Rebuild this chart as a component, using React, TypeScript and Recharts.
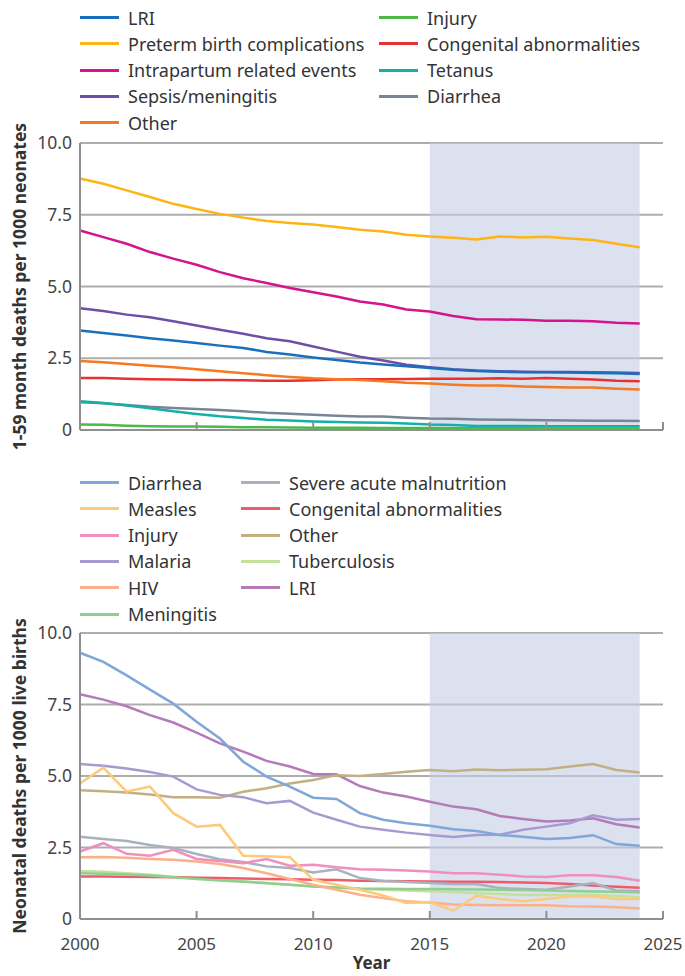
import { LineChart, Line, XAxis, YAxis, CartesianGrid, ReferenceArea } from "recharts";

const years = [
  2000, 2001, 2002, 2003, 2004, 2005, 2006, 2007, 2008, 2009, 2010, 2011, 2012,
  2013, 2014, 2015, 2016, 2017, 2018, 2019, 2020, 2021, 2022, 2023, 2024,
];
const xTicks = [2000, 2005, 2010, 2015, 2020, 2025];
const yTicks = [0, 2.5, 5, 7.5, 10];

// top panel: 1-59 month
const topLri = [3.47, 3.38, 3.29, 3.2, 3.12, 3.03, 2.94, 2.86, 2.72, 2.63, 2.53, 2.44, 2.35, 2.28, 2.22, 2.16, 2.1, 2.06, 2.03, 2.01, 2.01, 2.0, 1.99, 1.98, 1.95];
const topPreterm = [8.76, 8.58, 8.35, 8.12, 7.88, 7.7, 7.53, 7.4, 7.28, 7.21, 7.16, 7.07, 6.98, 6.92, 6.8, 6.74, 6.7, 6.64, 6.74, 6.71, 6.73, 6.67, 6.62, 6.49, 6.37];
const topIntrapartum = [6.95, 6.72, 6.49, 6.2, 5.97, 5.76, 5.5, 5.29, 5.12, 4.95, 4.8, 4.65, 4.48, 4.37, 4.2, 4.13, 3.97, 3.86, 3.85, 3.84, 3.81, 3.81, 3.79, 3.74, 3.71];
const topSepsis = [4.24, 4.15, 4.02, 3.93, 3.79, 3.64, 3.49, 3.35, 3.2, 3.09, 2.91, 2.73, 2.55, 2.42, 2.27, 2.19, 2.12, 2.07, 2.05, 2.03, 2.02, 2.02, 2.01, 2.0, 1.99];
const topOther = [2.4, 2.36, 2.3, 2.24, 2.19, 2.12, 2.05, 1.98, 1.91, 1.85, 1.8, 1.77, 1.74, 1.7, 1.65, 1.62, 1.58, 1.55, 1.55, 1.52, 1.5, 1.48, 1.48, 1.44, 1.41];
const topInjury = [0.19, 0.18, 0.15, 0.13, 0.12, 0.12, 0.11, 0.1, 0.1, 0.09, 0.08, 0.08, 0.08, 0.07, 0.07, 0.07, 0.06, 0.06, 0.06, 0.06, 0.05, 0.05, 0.05, 0.05, 0.05];
const topCongenital = [1.81, 1.81, 1.79, 1.77, 1.76, 1.74, 1.74, 1.73, 1.72, 1.72, 1.73, 1.76, 1.77, 1.77, 1.78, 1.79, 1.79, 1.79, 1.8, 1.79, 1.81, 1.79, 1.76, 1.72, 1.7];
const topTetanus = [1.0, 0.94, 0.85, 0.76, 0.65, 0.56, 0.48, 0.42, 0.36, 0.33, 0.3, 0.28, 0.26, 0.25, 0.23, 0.19, 0.17, 0.14, 0.14, 0.14, 0.13, 0.13, 0.13, 0.13, 0.13];
const topDiarrhea = [0.97, 0.93, 0.87, 0.81, 0.77, 0.73, 0.7, 0.65, 0.6, 0.57, 0.53, 0.5, 0.47, 0.47, 0.43, 0.4, 0.39, 0.37, 0.36, 0.35, 0.34, 0.33, 0.32, 0.32, 0.31];

// bottom panel: neonatal
const botDiarrhea = [9.31, 8.99, 8.52, 8.02, 7.53, 6.9, 6.31, 5.5, 4.98, 4.63, 4.24, 4.2, 3.7, 3.47, 3.35, 3.26, 3.14, 3.08, 2.94, 2.88, 2.8, 2.83, 2.93, 2.62, 2.56];
const botMeasles = [4.74, 5.29, 4.45, 4.63, 3.7, 3.23, 3.29, 2.21, 2.19, 2.16, 1.37, 1.2, 1.02, 0.82, 0.56, 0.59, 0.29, 0.81, 0.7, 0.62, 0.7, 0.79, 0.79, 0.7, 0.7];
const botInjury = [2.36, 2.65, 2.28, 2.21, 2.42, 2.1, 2.03, 1.95, 2.1, 1.86, 1.9, 1.81, 1.74, 1.72, 1.7, 1.66, 1.6, 1.6, 1.55, 1.49, 1.47, 1.53, 1.53, 1.47, 1.34];
const botMalaria = [5.42, 5.36, 5.26, 5.14, 4.98, 4.53, 4.34, 4.26, 4.05, 4.13, 3.72, 3.47, 3.23, 3.12, 3.02, 2.94, 2.87, 2.94, 2.95, 3.12, 3.23, 3.35, 3.63, 3.47, 3.5];
const botHiv = [2.16, 2.17, 2.14, 2.1, 2.07, 2.01, 1.92, 1.78, 1.6, 1.4, 1.2, 1.02, 0.85, 0.73, 0.62, 0.58, 0.51, 0.49, 0.48, 0.48, 0.48, 0.45, 0.44, 0.41, 0.37];
const botMeningitis = [1.6, 1.58, 1.56, 1.52, 1.46, 1.4, 1.35, 1.3, 1.25, 1.2, 1.14, 1.1, 1.07, 1.06, 1.05, 1.05, 1.04, 1.03, 1.02, 1.01, 1.0, 0.98, 0.96, 0.95, 0.93];
const botSam = [2.88, 2.8, 2.73, 2.59, 2.48, 2.27, 2.09, 1.99, 1.84, 1.78, 1.63, 1.74, 1.43, 1.33, 1.29, 1.26, 1.22, 1.22, 1.08, 1.05, 1.02, 1.14, 1.26, 1.0, 0.97];
const botCongenital = [1.49, 1.49, 1.48, 1.47, 1.46, 1.44, 1.43, 1.42, 1.4, 1.39, 1.37, 1.36, 1.34, 1.33, 1.32, 1.31, 1.3, 1.3, 1.29, 1.28, 1.26, 1.22, 1.17, 1.13, 1.09];
const botOther = [4.5, 4.47, 4.42, 4.35, 4.26, 4.26, 4.24, 4.45, 4.57, 4.74, 4.86, 5.03, 5.0, 5.07, 5.15, 5.21, 5.17, 5.23, 5.2, 5.22, 5.24, 5.33, 5.42, 5.21, 5.12];
const botTb = [1.68, 1.65, 1.6, 1.55, 1.48, 1.43, 1.37, 1.32, 1.26, 1.2, 1.14, 1.1, 1.05, 1.02, 1.0, 0.97, 0.94, 0.91, 0.87, 0.84, 0.85, 0.84, 0.84, 0.8, 0.77];
const botLri = [7.86, 7.67, 7.44, 7.13, 6.87, 6.52, 6.14, 5.85, 5.53, 5.33, 5.07, 5.06, 4.65, 4.42, 4.28, 4.1, 3.93, 3.84, 3.6, 3.5, 3.41, 3.44, 3.52, 3.31, 3.2];

type Series = { key: string; name: string; color: string; values: number[] };

// legend order, column by column
const topSeries: Series[] = [
  { key: "lri", name: "LRI", color: "#1a6fbd", values: topLri },
  { key: "preterm", name: "Preterm birth complications", color: "#fdb515", values: topPreterm },
  { key: "intrapartum", name: "Intrapartum related events", color: "#d4148c", values: topIntrapartum },
  { key: "sepsis", name: "Sepsis/meningitis", color: "#6b4fa8", values: topSepsis },
  { key: "other", name: "Other", color: "#f47920", values: topOther },
  { key: "injury", name: "Injury", color: "#4cb847", values: topInjury },
  { key: "congenital", name: "Congenital abnormalities", color: "#e8312f", values: topCongenital },
  { key: "tetanus", name: "Tetanus", color: "#12b0a8", values: topTetanus },
  { key: "diarrhea", name: "Diarrhea", color: "#7a8594", values: topDiarrhea },
];

const bottomSeries: Series[] = [
  { key: "diarrhea", name: "Diarrhea", color: "#7fa7d9", values: botDiarrhea },
  { key: "measles", name: "Measles", color: "#fdc97a", values: botMeasles },
  { key: "injury", name: "Injury", color: "#ee8fbe", values: botInjury },
  { key: "malaria", name: "Malaria", color: "#a89ad0", values: botMalaria },
  { key: "hiv", name: "HIV", color: "#fbb08a", values: botHiv },
  { key: "meningitis", name: "Meningitis", color: "#90cf92", values: botMeningitis },
  { key: "sam", name: "Severe acute malnutrition", color: "#a9b2bc", values: botSam },
  { key: "congenital", name: "Congenital abnormalities", color: "#ef5b6b", values: botCongenital },
  { key: "other", name: "Other", color: "#c2b083", values: botOther },
  { key: "tb", name: "Tuberculosis", color: "#c3e19a", values: botTb },
  { key: "lri", name: "LRI", color: "#b57ab8", values: botLri },
];

const toRows = (series: Series[]) =>
  years.map((year, i) => {
    const row: Record<string, number> = { year };
    series.forEach((s) => (row[s.key] = s.values[i]));
    return row;
  });

const FONT = "'Noto Sans', sans-serif";
const AXIS = "#8f8f8f";

function YearTick(props: any) {
  const { x, y, payload, showLabel } = props;
  return (
    <g>
      <line x1={x} x2={x} y1={y} y2={y - 8} stroke={AXIS} strokeWidth={2} />
      {showLabel && (
        <text x={x} y={y + 31} textAnchor="middle" fontSize={17} fill="#444" fontFamily={FONT}>
          {payload.value}
        </text>
      )}
    </g>
  );
}

function Legend({ series, top, rows, col1, col2 }: { series: Series[]; top: number; rows: number; col1: number; col2: number }) {
  return (
    <>
      {series.map((s, i) => {
        const col = Math.floor(i / rows);
        const row = i % rows;
        return (
          <div
            key={s.name + i}
            style={{
              position: "absolute",
              left: col === 0 ? col1 : col2,
              top: top + row * 26.3 - 12,
              height: 24,
              display: "flex",
              alignItems: "center",
              fontFamily: FONT,
              fontSize: 18,
              color: "#333",
              whiteSpace: "nowrap",
            }}
          >
            <span style={{ display: "inline-block", width: 39, height: 3, background: s.color, marginRight: 9 }} />
            {s.name}
          </div>
        );
      })}
    </>
  );
}

function Panel({ series, height, xAxisHeight, showLabels, yTitle }: { series: Series[]; height: number; xAxisHeight: number; showLabels: boolean; yTitle: string }) {
  const drawOrder = [...series].reverse();
  return (
    <LineChart width={685} height={height} data={toRows(series)} margin={{ top: 143, right: 22, bottom: 0, left: 0 }}>
      <ReferenceArea x1={2015} x2={2024} y1={0} y2={10} fill="#c5cde6" fillOpacity={0.6} stroke="none" />
      <CartesianGrid vertical={false} stroke="#adadad" strokeWidth={2} />
      <XAxis
        dataKey="year"
        type="number"
        domain={[2000, 2025]}
        ticks={xTicks}
        height={xAxisHeight}
        tickSize={0}
        tickMargin={0}
        tickLine={false}
        axisLine={{ stroke: AXIS, strokeWidth: 2 }}
        tick={<YearTick showLabel={showLabels} />}
        interval={0}
        label={showLabels ? { value: "Year", position: "insideBottom", offset: 7, style: { fontFamily: FONT, fontSize: 17, fontWeight: 700, fill: "#333" } } : undefined}
      />
      <YAxis
        type="number"
        domain={[0, 10]}
        ticks={yTicks}
        interval={0}
        width={80}
        tickSize={0}
        tickMargin={8}
        tickLine={false}
        axisLine={{ stroke: AXIS, strokeWidth: 2 }}
        tickFormatter={(v: number) => (v === 0 ? "0" : v.toFixed(1))}
        tick={{ fontSize: 17.5, fill: "#444", fontFamily: FONT }}
        label={{ value: yTitle, angle: -90, position: "center", dx: -20, style: { fontFamily: FONT, fontSize: 17.5, fontWeight: 700, fill: "#333" } }}
      />
      {drawOrder.map((s) => (
        <Line key={s.key} dataKey={s.key} name={s.name} stroke={s.color} strokeWidth={2.5} dot={false} type="linear" isAnimationActive={false} />
      ))}
    </LineChart>
  );
}

export default function App() {
  return (
    <div style={{ position: "absolute", left: 0, top: 0, width: 685, height: 976, background: "#fff", overflow: "hidden" }}>
      <div style={{ position: "absolute", left: 0, top: 0 }}>
        <Panel series={topSeries} height={480} xAxisHeight={50} showLabels={false} yTitle="1-59 month deaths per 1000 neonates" />
      </div>
      <div style={{ position: "absolute", left: 0, top: 490 }}>
        <Panel series={bottomSeries} height={486} xAxisHeight={57} showLabels={true} yTitle="Neonatal deaths per 1000 live births" />
      </div>
      <Legend series={topSeries} top={17.5} rows={5} col1={80} col2={379} />
      <Legend series={bottomSeries} top={482.5} rows={6} col1={80} col2={241} />
    </div>
  );
}
